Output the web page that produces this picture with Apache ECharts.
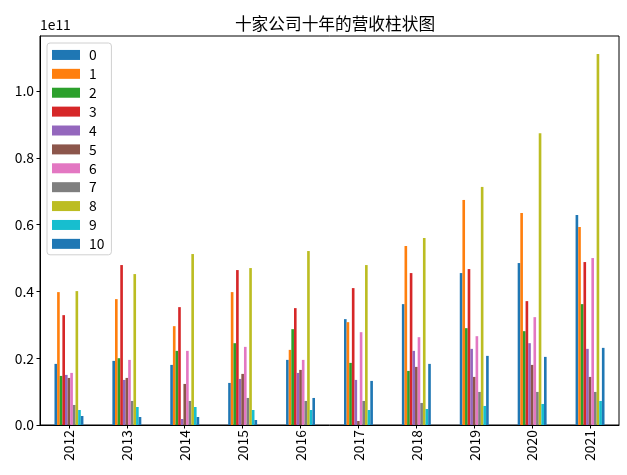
<!DOCTYPE html>
<html><head><meta charset="utf-8">
<script src="https://cdn.jsdelivr.net/npm/echarts@6/dist/echarts.min.js"></script>
<style>html,body{margin:0;padding:0;background:#fff}#c{width:627px;height:475px}</style>
</head><body><div id="c"></div>
<script>
const years = ['2012','2013','2014','2015','2016','2017','2018','2019','2020','2021'];
const seriesNames = ['0','1','2','3','4','5','6','7','8','9','10'];
const yTicks = [0, 0.2e11, 0.4e11, 0.6e11, 0.8e11, 1.0e11];
const s0  = [0.183e11, 0.192e11, 0.180e11, 0.126e11, 0.195e11, 0.317e11, 0.362e11, 0.455e11, 0.485e11, 0.629e11];
const s1  = [0.398e11, 0.377e11, 0.296e11, 0.398e11, 0.225e11, 0.308e11, 0.536e11, 0.674e11, 0.635e11, 0.593e11];
const s2  = [0.147e11, 0.200e11, 0.222e11, 0.245e11, 0.287e11, 0.186e11, 0.162e11, 0.290e11, 0.281e11, 0.362e11];
const s3  = [0.329e11, 0.479e11, 0.353e11, 0.464e11, 0.350e11, 0.410e11, 0.455e11, 0.467e11, 0.371e11, 0.488e11];
const s4  = [0.150e11, 0.135e11, 0.018e11, 0.138e11, 0.156e11, 0.135e11, 0.222e11, 0.228e11, 0.245e11, 0.228e11];
const s5  = [0.141e11, 0.141e11, 0.123e11, 0.153e11, 0.165e11, 0.012e11, 0.174e11, 0.144e11, 0.180e11, 0.144e11];
const s6  = [0.156e11, 0.195e11, 0.222e11, 0.234e11, 0.195e11, 0.278e11, 0.263e11, 0.266e11, 0.323e11, 0.500e11];
const s7  = [0.060e11, 0.072e11, 0.072e11, 0.081e11, 0.072e11, 0.072e11, 0.066e11, 0.099e11, 0.099e11, 0.099e11];
const s8  = [0.401e11, 0.452e11, 0.512e11, 0.470e11, 0.521e11, 0.479e11, 0.560e11, 0.713e11, 0.874e11, 1.111e11];
const s9  = [0.045e11, 0.054e11, 0.054e11, 0.045e11, 0.045e11, 0.045e11, 0.048e11, 0.057e11, 0.063e11, 0.072e11];
const s10 = [0.027e11, 0.024e11, 0.024e11, 0.015e11, 0.081e11, 0.132e11, 0.183e11, 0.207e11, 0.204e11, 0.231e11];
const allSeries = [s0, s1, s2, s3, s4, s5, s6, s7, s8, s9, s10];
const colors = ['#1f77b4','#ff7f0e','#2ca02c','#d62728','#9467bd','#8c564b','#e377c2','#7f7f7f','#bcbd22','#17becf','#1f77b4'];
const FONT = 'Noto Sans CJK SC';

const chart = echarts.init(document.getElementById('c'), null, {renderer: 'canvas'});
chart.setOption({
  animation: false,
  backgroundColor: '#fff',
  title: {
    text: '十家公司十年的营收柱状图',
    left: 330, textAlign: 'center', top: 10,
    textStyle: {fontFamily: FONT, fontSize: 16.7, fontWeight: 'normal', color: '#000'}
  },
  legend: {
    orient: 'vertical', left: 47, top: 43,
    data: seriesNames,
    itemWidth: 28, itemHeight: 10, itemGap: 5,
    padding: [5, 7, 4, 5],
    borderColor: '#d0d0d0', borderWidth: 1, borderRadius: 3,
    backgroundColor: 'rgba(255,255,255,0.8)',
    icon: 'rect',
    textStyle: {fontFamily: FONT, fontSize: 13.9, color: '#000', padding: [0, 0, 0, 4]}
  },
  grid: {left: 40, right: 8, top: 36, bottom: 50, show: true, borderColor: '#000', borderWidth: 1, containLabel: false},
  xAxis: {
    type: 'category', data: years,
    axisLine: {show: true, lineStyle: {color: '#000', width: 1}},
    axisTick: {show: true, alignWithLabel: true, length: 3.5, lineStyle: {color: '#000'}},
    axisLabel: {rotate: 90, margin: 5, fontFamily: FONT, fontSize: 13.9, color: '#000'},
    splitLine: {show: false}
  },
  yAxis: {
    type: 'value', min: 0, max: 1.165e11,
    name: '1e11', nameLocation: 'end', nameGap: 4,
    nameTextStyle: {fontFamily: FONT, fontSize: 13.9, color: '#000', align: 'left', verticalAlign: 'bottom'},
    axisLine: {show: true, lineStyle: {color: '#000', width: 1}},
    axisTick: {show: true, length: 3.5, lineStyle: {color: '#000'}, customValues: yTicks},
    axisLabel: {margin: 6, fontFamily: FONT, fontSize: 13.9, color: '#000', customValues: yTicks,
      formatter: v => (v / 1e11).toFixed(1)},
    splitLine: {show: false}
  },
  series: allSeries.map((d, i) => ({
    name: seriesNames[i], type: 'bar', data: d,
    barGap: '0%', barCategoryGap: '50%',
    itemStyle: {color: colors[i]}
  }))
});
</script></body></html>
